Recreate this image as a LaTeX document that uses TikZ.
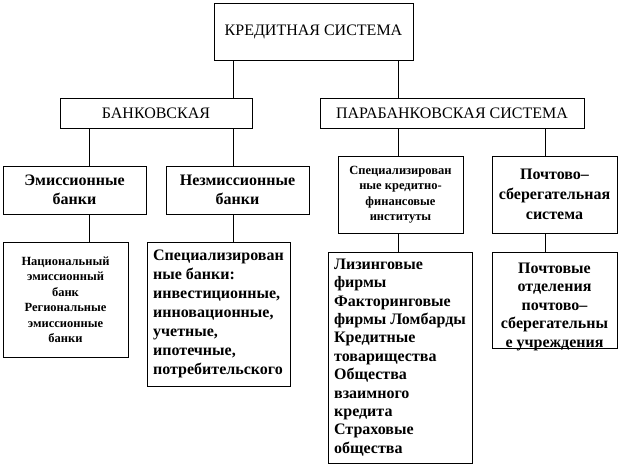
\documentclass[tikz,border=0pt]{standalone}
\usepackage{fontspec}
\setmainfont{Liberation Serif}
\tikzstyle{frame} = [rectangle, draw=black, line width=0.9pt, outer sep=0pt, inner sep=2pt]
\tikzstyle{head} = [frame, font=\fontsize{16}{19}\selectfont, align=center]
\tikzstyle{unit} = [frame, font=\bfseries\fontsize{16}{18.5}\selectfont, align=center]
\tikzstyle{unit_small} = [frame, font=\bfseries\fontsize{12.5}{15.5}\selectfont, align=center]
\tikzstyle{unit_list} = [frame, font=\bfseries\fontsize{16}{18.5}\selectfont, align=left]
\tikzstyle{link} = [line width=0.9pt]

\begin{document}
\begin{tikzpicture}[x=1pt, y=-1pt]
		\useasboundingbox (0,0) rectangle (620,467);
		% top levels
		\node (kredit) [head, minimum width=199pt, minimum height=57pt] at (313.5,31.5) {КРЕДИТНАЯ СИСТЕМА};
		\node (bank) [head, minimum width=192pt, minimum height=30pt] at (156,113) {БАНКОВСКАЯ};
		\node (para) [head, minimum width=264pt, minimum height=30pt] at (452,113) {ПАРАБАНКОВСКАЯ СИСТЕМА};
		% third level
		\node (emis) [unit, minimum width=143pt, minimum height=48pt] at (74.5,190) {Эмиссионные\\банки};
		\node (neemis) [unit, minimum width=143pt, minimum height=48pt] at (237.5,190) {Незмиссионные\\банки};
		\node (spec) [unit_small, minimum width=125pt, minimum height=77pt] at (400.5,194.5) {Специализирован\\ные кредитно-\\финансовые\\институты};
		\node (pocht) [unit, minimum width=125pt, minimum height=77pt, font=\bfseries\fontsize{16}{20}\selectfont] at (554.5,194.5) {Почтово–\\сберегательная\\система};
		% bottom level
		\node (nats) [unit_small, minimum width=125pt, minimum height=115pt] at (65.5,299.5) {Национальный\\эмиссионный\\банк\\Региональные\\эмиссионные\\банки};
		\node (specbank) [unit_list, minimum width=143pt, minimum height=144pt, font=\bfseries\fontsize{16}{19}\selectfont] at (218.5,314) {Специализирован\\ные банки:\\инвестиционные,\\инновационные,\\учетные,\\ипотечные,\\потребительского};
		\node (lizing) [unit_list, minimum width=144pt, minimum height=211pt, font=\bfseries\fontsize{16}{18.4}\selectfont] at (400,357.5) {Лизинговые\\фирмы\\Факторинговые\\фирмы Ломбарды\\Кредитные\\товарищества\\Общества\\взаимного\\кредита\\Страховые\\общества};
		\node (otdel) [frame, minimum width=125pt, minimum height=96pt] at (554.5,300) {};
		\begin{scope}
			\clip ([yshift=-8pt]otdel.south west) rectangle (otdel.north east);
			\node [font=\bfseries\fontsize{16}{18.5}\selectfont, align=center, anchor=north] at ([yshift=-7pt]otdel.north) {Почтовые\\отделения\\почтово–\\сберегательны\\е учреждения};
		\end{scope}
		
		\coordinate (c1) at (233,0);
		\coordinate (c2) at (398,0);
		\coordinate (c3) at (89,0);
		\coordinate (c4) at (545,0);
		\draw [link] (kredit.south -| c1) -- (bank.north -| c1);
		\draw [link] (kredit.south -| c2) -- (para.north -| c2);
		\draw [link] (bank.south -| c3) -- (emis.north -| c3);
		\draw [link] (bank.south -| c1) -- (neemis.north -| c1);
		\draw [link] (para.south -| c2) -- (spec.north -| c2);
		\draw [link] (para.south -| c4) -- (pocht.north -| c4);
		\draw [link] (emis.south -| c3) -- (nats.north -| c3);
		\draw [link] (neemis.south -| c1) -- (specbank.north -| c1);
		\draw [link] (spec.south -| c2) -- (lizing.north -| c2);
		\draw [link] (pocht.south -| c4) -- (otdel.north -| c4);
		\end{tikzpicture}
\end{document}
